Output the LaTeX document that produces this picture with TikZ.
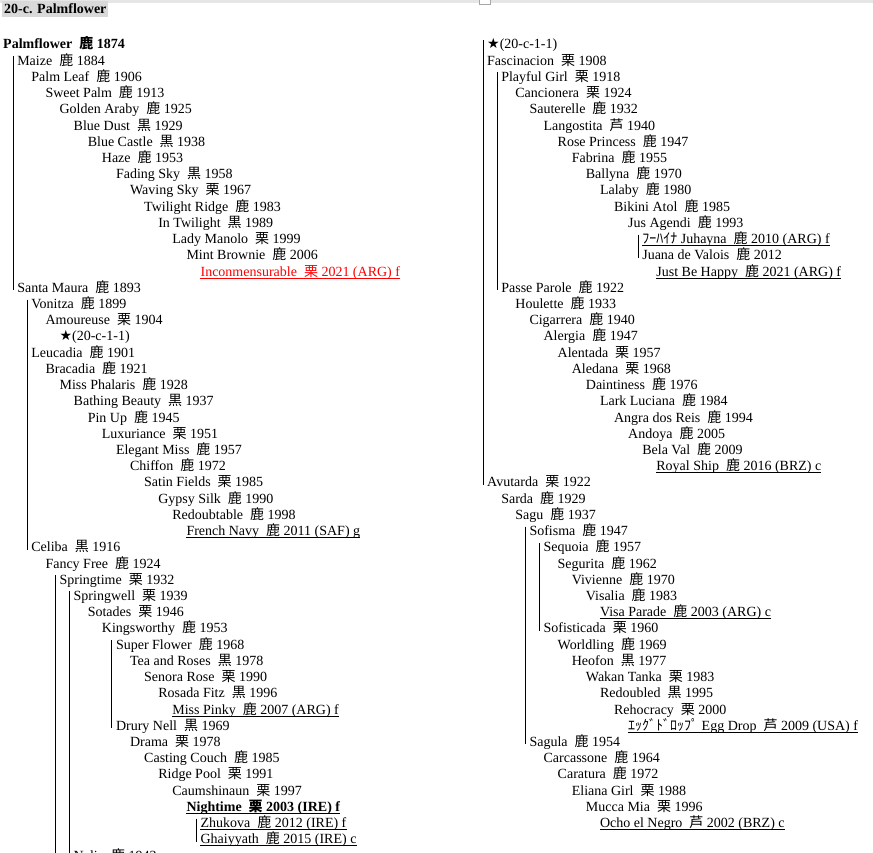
\documentclass[tikz,border=0pt]{standalone}
\usepackage{fontspec}
\setmainfont{Liberation Serif}
\newfontfamily\jpfont{Noto Sans CJK JP}
\newfontfamily\symfont{DejaVu Sans}
\newcommand\horsefont{\fontsize{14}{16}\selectfont}
\newcommand\coat[1]{\hspace{.25em}{\jpfont #1}}
\definecolor{band}{HTML}{E6E6E6}
\definecolor{titlegray}{HTML}{D9D9D9}
\tikzset{
  horse/.style={anchor=base west, inner sep=0pt, font=\horsefont},
  std/.style={},
  root/.style={font=\horsefont\bfseries},
  live/.style={append after command={([yshift=-2pt]\tikzlastnode.base west) edge[draw=#1, line width=0.8pt] ([yshift=-2pt]\tikzlastnode.base east)}},
  live/.default=black,
  hot/.style={text=red, live=red},
  sire/.style={font=\horsefont\bfseries, live},
  rail/.style={line width=0.9pt},
}
\begin{document}
\begin{tikzpicture}[x=1pt, y=-1pt]
        \def\dx{14.1}  % indent per generation
        \def\dy{16.22} % line pitch
        \def\xl{3}     % left column
        \def\xr{487}   % right column
        \def\yb{49}    % first baseline
        \useasboundingbox (0,0) rectangle (873,853);
        \clip (0,0) rectangle (873,853);

        % Page band and title
        \fill[band] (0,0) rectangle (873,3);
        \draw[gray!70, fill=white] (479,-5) rectangle (490,4);
        \node[horse, root, fill=titlegray, inner xsep=2pt, inner ysep=3pt] (title) at (2,14) {20-c. Palmflower};
        \coordinate (foot) at (0,870);

        % Left column
        \foreach \row/\lev/\sty/\txt in {
            0/0/root/{Palmflower \coat{鹿} 1874},
            1/1/std/{Maize \coat{鹿} 1884},
            2/2/std/{Palm Leaf \coat{鹿} 1906},
            3/3/std/{Sweet Palm \coat{鹿} 1913},
            4/4/std/{Golden Araby \coat{鹿} 1925},
            5/5/std/{Blue Dust \coat{黒} 1929},
            6/6/std/{Blue Castle \coat{黒} 1938},
            7/7/std/{Haze \coat{鹿} 1953},
            8/8/std/{Fading Sky \coat{黒} 1958},
            9/9/std/{Waving Sky \coat{栗} 1967},
            10/10/std/{Twilight Ridge \coat{鹿} 1983},
            11/11/std/{In Twilight \coat{黒} 1989},
            12/12/std/{Lady Manolo \coat{栗} 1999},
            13/13/std/{Mint Brownie \coat{鹿} 2006},
            14/14/hot/{Inconmensurable \coat{栗} 2021 (ARG) f},
            15/1/std/{Santa Maura \coat{鹿} 1893},
            16/2/std/{Vonitza \coat{鹿} 1899},
            17/3/std/{Amoureuse \coat{栗} 1904},
            18/4/std/{{\symfont ★}(20-c-1-1)},
            19/2/std/{Leucadia \coat{鹿} 1901},
            20/3/std/{Bracadia \coat{鹿} 1921},
            21/4/std/{Miss Phalaris \coat{鹿} 1928},
            22/5/std/{Bathing Beauty \coat{黒} 1937},
            23/6/std/{Pin Up \coat{鹿} 1945},
            24/7/std/{Luxuriance \coat{栗} 1951},
            25/8/std/{Elegant Miss \coat{鹿} 1957},
            26/9/std/{Chiffon \coat{鹿} 1972},
            27/10/std/{Satin Fields \coat{栗} 1985},
            28/11/std/{Gypsy Silk \coat{鹿} 1990},
            29/12/std/{Redoubtable \coat{鹿} 1998},
            30/13/live/{French Navy \coat{鹿} 2011 (SAF) g},
            31/2/std/{Celiba \coat{黒} 1916},
            32/3/std/{Fancy Free \coat{鹿} 1924},
            33/4/std/{Springtime \coat{栗} 1932},
            34/5/std/{Springwell \coat{栗} 1939},
            35/6/std/{Sotades \coat{栗} 1946},
            36/7/std/{Kingsworthy \coat{鹿} 1953},
            37/8/std/{Super Flower \coat{鹿} 1968},
            38/9/std/{Tea and Roses \coat{黒} 1978},
            39/10/std/{Senora Rose \coat{栗} 1990},
            40/11/std/{Rosada Fitz \coat{黒} 1996},
            41/12/live/{Miss Pinky \coat{鹿} 2007 (ARG) f},
            42/8/std/{Drury Nell \coat{黒} 1969},
            43/9/std/{Drama \coat{栗} 1978},
            44/10/std/{Casting Couch \coat{鹿} 1985},
            45/11/std/{Ridge Pool \coat{栗} 1991},
            46/12/std/{Caumshinaun \coat{栗} 1997},
            47/13/sire/{Nightime \coat{栗} 2003 (IRE) f},
            48/14/live/{Zhukova \coat{鹿} 2012 (IRE) f},
            49/14/live/{Ghaiyyath \coat{鹿} 2015 (IRE) c},
            50/5/std/{Nelia \coat{鹿} 1943}}
          \node[horse, \sty] (l\row) at ({\xl+\dx*\lev},{\yb+\dy*\row}) {\txt};

        % Right column
        \foreach \row/\lev/\sty/\txt in {
            0/0/std/{{\symfont ★}(20-c-1-1)},
            1/0/std/{Fascinacion \coat{栗} 1908},
            2/1/std/{Playful Girl \coat{栗} 1918},
            3/2/std/{Cancionera \coat{栗} 1924},
            4/3/std/{Sauterelle \coat{鹿} 1932},
            5/4/std/{Langostita \coat{芦} 1940},
            6/5/std/{Rose Princess \coat{鹿} 1947},
            7/6/std/{Fabrina \coat{鹿} 1955},
            8/7/std/{Ballyna \coat{鹿} 1970},
            9/8/std/{Lalaby \coat{鹿} 1980},
            10/9/std/{Bikini Atol \coat{鹿} 1985},
            11/10/std/{Jus Agendi \coat{鹿} 1993},
            12/11/live/{{\jpfont ﾌｰﾊｲﾅ} Juhayna \coat{鹿} 2010 (ARG) f},
            13/11/std/{Juana de Valois \coat{鹿} 2012},
            14/12/live/{Just Be Happy \coat{鹿} 2021 (ARG) f},
            15/1/std/{Passe Parole \coat{鹿} 1922},
            16/2/std/{Houlette \coat{鹿} 1933},
            17/3/std/{Cigarrera \coat{鹿} 1940},
            18/4/std/{Alergia \coat{鹿} 1947},
            19/5/std/{Alentada \coat{栗} 1957},
            20/6/std/{Aledana \coat{栗} 1968},
            21/7/std/{Daintiness \coat{鹿} 1976},
            22/8/std/{Lark Luciana \coat{鹿} 1984},
            23/9/std/{Angra dos Reis \coat{鹿} 1994},
            24/10/std/{Andoya \coat{鹿} 2005},
            25/11/std/{Bela Val \coat{鹿} 2009},
            26/12/live/{Royal Ship \coat{鹿} 2016 (BRZ) c},
            27/0/std/{Avutarda \coat{栗} 1922},
            28/1/std/{Sarda \coat{鹿} 1929},
            29/2/std/{Sagu \coat{鹿} 1937},
            30/3/std/{Sofisma \coat{鹿} 1947},
            31/4/std/{Sequoia \coat{鹿} 1957},
            32/5/std/{Segurita \coat{鹿} 1962},
            33/6/std/{Vivienne \coat{鹿} 1970},
            34/7/std/{Visalia \coat{鹿} 1983},
            35/8/live/{Visa Parade \coat{鹿} 2003 (ARG) c},
            36/4/std/{Sofisticada \coat{栗} 1960},
            37/5/std/{Worldling \coat{鹿} 1969},
            38/6/std/{Heofon \coat{黒} 1977},
            39/7/std/{Wakan Tanka \coat{栗} 1983},
            40/8/std/{Redoubled \coat{黒} 1995},
            41/9/std/{Rehocracy \coat{栗} 2000},
            42/10/live/{{\jpfont ｴｯｸﾞﾄﾞﾛｯﾌﾟ} Egg Drop \coat{芦} 2009 (USA) f},
            43/3/std/{Sagula \coat{鹿} 1954},
            44/4/std/{Carcassone \coat{鹿} 1964},
            45/5/std/{Caratura \coat{鹿} 1972},
            46/6/std/{Eliana Girl \coat{栗} 1988},
            47/7/std/{Mucca Mia \coat{栗} 1996},
            48/8/live/{Ocho el Negro \coat{芦} 2002 (BRZ) c}}
          \node[horse, \sty] (r\row) at ({\xr+\dx*\lev},{\yb+\dy*\row}) {\txt};

        % Sibling rails (left)
        \draw[rail] ([xshift=-4pt,yshift=9pt]l1.base west) -- ([xshift=-4pt,yshift=2pt]l15.base west);
        \draw[rail] ([xshift=-4pt,yshift=9pt]l16.base west) -- ([xshift=-4pt,yshift=2pt]l31.base west);
        \draw[rail] ([xshift=-4pt,yshift=9pt]l33.base west) -- ([xshift=-4pt]l33.base west |- foot);
        \draw[rail] ([xshift=-4pt,yshift=9pt]l34.base west) -- ([xshift=-4pt]l34.base west |- foot);
        \draw[rail] ([xshift=-4pt,yshift=9pt]l37.base west) -- ([xshift=-4pt,yshift=2pt]l42.base west);
        \draw[rail] ([xshift=-4pt,yshift=9pt]l48.base west) -- ([xshift=-4pt,yshift=2pt]l49.base west);

        % Sibling rails (right)
        \draw[rail] ([xshift=-4pt,yshift=9pt]r0.base west) -- ([xshift=-4pt,yshift=2pt]r27.base west);
        \draw[rail] ([xshift=-4pt,yshift=9pt]r2.base west) -- ([xshift=-4pt,yshift=2pt]r15.base west);
        \draw[rail] ([xshift=-4pt,yshift=9pt]r12.base west) -- ([xshift=-4pt,yshift=2pt]r13.base west);
        \draw[rail] ([xshift=-4pt,yshift=9pt]r30.base west) -- ([xshift=-4pt,yshift=2pt]r43.base west);
        \draw[rail] ([xshift=-4pt,yshift=9pt]r31.base west) -- ([xshift=-4pt,yshift=2pt]r36.base west);
    \end{tikzpicture}
\end{document}
